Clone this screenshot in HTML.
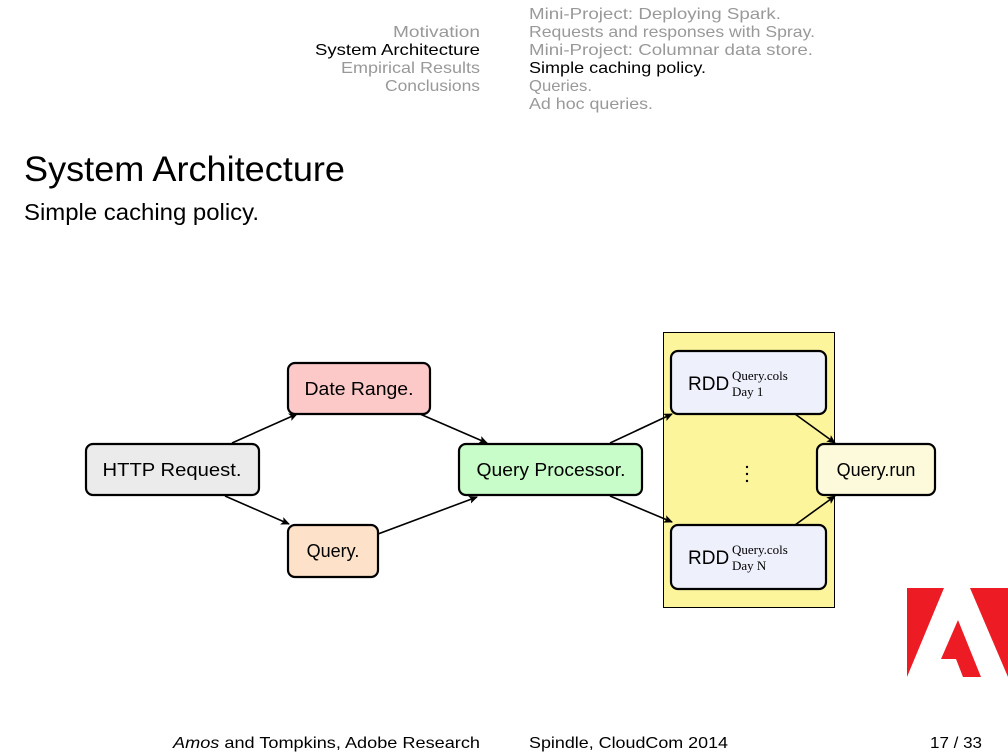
<!DOCTYPE html>
<html><head><meta charset="utf-8"><style>
html,body{margin:0;padding:0;background:#fff;}
svg{display:block;font-family:"Liberation Sans","DejaVu Sans",sans-serif;}
</style></head><body>
<svg width="1008" height="756" viewBox="0 0 1008 756" xmlns="http://www.w3.org/2000/svg">
<defs><marker id="a" markerWidth="9" markerHeight="9" refX="8" refY="4.5" orient="auto" markerUnits="userSpaceOnUse"><path d="M0,0.5 L9,4.5 L0,8.5 L2,4.5 Z" fill="#000"/></marker></defs>
<g font-size="16" fill="#999">
<text x="480" y="37" text-anchor="end" textLength="87" lengthAdjust="spacingAndGlyphs">Motivation</text>
<text x="480" y="55" text-anchor="end" fill="#000" textLength="165" lengthAdjust="spacingAndGlyphs">System Architecture</text>
<text x="480" y="73" text-anchor="end" textLength="139" lengthAdjust="spacingAndGlyphs">Empirical Results</text>
<text x="480" y="91" text-anchor="end" textLength="95" lengthAdjust="spacingAndGlyphs">Conclusions</text>
<text x="529" y="19" textLength="252" lengthAdjust="spacingAndGlyphs">Mini-Project: Deploying Spark.</text>
<text x="529" y="37" textLength="286" lengthAdjust="spacingAndGlyphs">Requests and responses with Spray.</text>
<text x="529" y="55" textLength="284" lengthAdjust="spacingAndGlyphs">Mini-Project: Columnar data store.</text>
<text x="529" y="73" fill="#000" textLength="177" lengthAdjust="spacingAndGlyphs">Simple caching policy.</text>
<text x="529" y="91" textLength="63" lengthAdjust="spacingAndGlyphs">Queries.</text>
<text x="529" y="109" textLength="124" lengthAdjust="spacingAndGlyphs">Ad hoc queries.</text>
</g>
<text x="24" y="181" font-size="35" textLength="321" lengthAdjust="spacingAndGlyphs">System Architecture</text>
<text x="24" y="220" font-size="23" textLength="235" lengthAdjust="spacingAndGlyphs">Simple caching policy.</text>

<rect x="663.5" y="332.5" width="171" height="275" fill="#fdf59c" stroke="#000" stroke-width="1"/>
<g stroke="#000" stroke-width="2.2">
<rect x="86" y="444" width="173" height="51" rx="7" fill="#ebebeb"/>
<rect x="288" y="363" width="142" height="51" rx="7" fill="#fcc8c8"/>
<rect x="288" y="525" width="90" height="52" rx="7" fill="#fde1c8"/>
<rect x="459" y="444" width="183" height="51" rx="7" fill="#c8fcc8"/>
<rect x="671" y="351" width="155" height="63" rx="7" fill="#eef0fc"/>
<rect x="671" y="525" width="155" height="64" rx="7" fill="#eef0fc"/>
<rect x="817" y="444" width="118" height="51" rx="7" fill="#fdfadc"/>
</g>
<g stroke="#000" stroke-width="1.6" marker-end="url(#a)">
<line x1="232" y1="443" x2="297" y2="414"/>
<line x1="225" y1="496" x2="289" y2="524"/>
<line x1="420" y1="414" x2="487" y2="443"/>
<line x1="378" y1="534" x2="477" y2="497"/>
<line x1="610" y1="443" x2="672" y2="414"/>
<line x1="610" y1="496" x2="672" y2="522"/>
<line x1="795" y1="414" x2="835" y2="443"/>
<line x1="795" y1="525" x2="835" y2="496"/>
</g>
<g font-size="18" text-anchor="middle">
<text x="172" y="476" textLength="139" lengthAdjust="spacingAndGlyphs">HTTP Request.</text>
<text x="359" y="395" textLength="109" lengthAdjust="spacingAndGlyphs">Date Range.</text>
<text x="333" y="557">Query.</text>
<text x="551" y="476" textLength="149" lengthAdjust="spacingAndGlyphs">Query Processor.</text>
<text x="876" y="476">Query.run</text>
</g>
<g font-size="19"><text x="688" y="390">RDD</text><text x="688" y="564">RDD</text></g>
<g font-family="Liberation Serif,serif" font-size="13">
<text x="732" y="380">Query.cols</text><text x="732" y="396">Day  1</text>
<text x="732" y="554">Query.cols</text><text x="732" y="570">Day  N</text>
</g>
<g fill="#000"><circle cx="747" cy="467" r="1.2"/><circle cx="747" cy="474" r="1.2"/><circle cx="747" cy="481" r="1.2"/></g>

<g fill="#ed1c24">
<polygon points="907,588 944,588 907,677"/>
<polygon points="970,588 1008,588 1008,677"/>
<polygon points="958,620 981,677 963,677 956,659 941,659"/>
</g>
<g font-size="16">
<text x="173" y="748" textLength="307" lengthAdjust="spacingAndGlyphs"><tspan font-style="italic">Amos</tspan> and Tompkins, Adobe Research</text>
<text x="529" y="748" textLength="199" lengthAdjust="spacingAndGlyphs">Spindle, CloudCom 2014</text>
<text x="930" y="748" textLength="52" lengthAdjust="spacingAndGlyphs">17 / 33</text>
</g>
</svg>
</body></html>
